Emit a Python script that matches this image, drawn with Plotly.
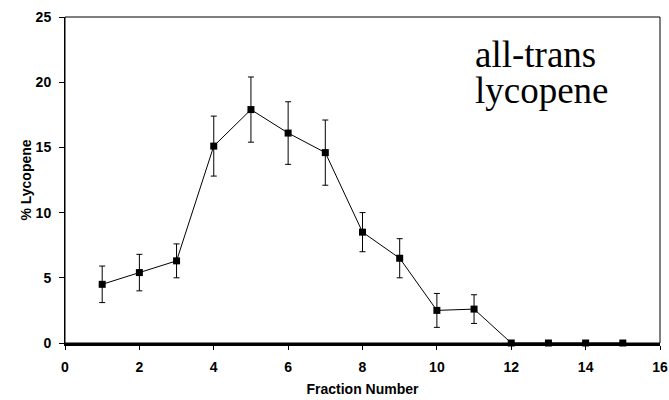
import plotly.graph_objects as go

fraction = [1, 2, 3, 4, 5, 6, 7, 8, 9, 10, 11, 12, 13, 14, 15]
lycopene = [4.5, 5.4, 6.3, 15.1, 17.9, 16.1, 14.6, 8.5, 6.5, 2.5, 2.6, 0, 0, 0, 0]
err = [1.4, 1.4, 1.3, 2.3, 2.5, 2.4, 2.5, 1.5, 1.5, 1.3, 1.1, 0, 0, 0, 0]

x_ticks = [0, 2, 4, 6, 8, 10, 12, 14, 16]
y_ticks = [0, 5, 10, 15, 20, 25]

fig = go.Figure()
fig.add_trace(go.Scatter(
    x=fraction, y=lycopene, mode="lines+markers",
    line=dict(color="black", width=1),
    marker=dict(symbol="square", size=7, color="black"),
    error_y=dict(type="data", array=err, visible=True, color="black", thickness=1, width=3),
    cliponaxis=False, showlegend=False,
))

tickfont = dict(family="Liberation Sans, Arial", size=14, color="black")
fig.update_layout(
    width=669, height=400,
    margin=dict(l=65, r=9, t=17, b=57),
    paper_bgcolor="white", plot_bgcolor="white",
    xaxis=dict(range=[0, 16], tickvals=x_ticks, ticktext=[f"<b>{v}</b>" for v in x_ticks],
               showgrid=False, zeroline=False, showline=True, linecolor="black", linewidth=2.5,
               ticks="outside", ticklen=4, tickcolor="black", tickfont=tickfont,
               ticklabelstandoff=5, automargin=False, ticklabeloverflow="allow",
               title=dict(text="<b>Fraction Number</b>", font=tickfont, standoff=11)),
    yaxis=dict(range=[0, 25], tickvals=y_ticks, ticktext=[f"<b>{v}</b>" for v in y_ticks],
               showgrid=False, zeroline=False, showline=True, linecolor="black", linewidth=1,
               ticks="outside", ticklen=5, tickcolor="black", tickfont=tickfont,
               ticklabelstandoff=5, automargin=False, ticklabeloverflow="allow",
               title=dict(text="<b>% Lycopene</b>", font=tickfont, standoff=0)),
    shapes=[dict(type="rect", xref="paper", yref="paper", x0=0, y0=0, x1=1, y1=1,
                 line=dict(color="black", width=1), layer="below")],
    annotations=[
        dict(text="all-trans", xref="paper", yref="paper", x=0.686, y=0.885,
             xanchor="left", yanchor="middle", showarrow=False,
             font=dict(family="Liberation Serif, Times New Roman", size=37, color="black")),
        dict(text="lycopene", xref="paper", yref="paper", x=0.686, y=0.776,
             xanchor="left", yanchor="middle", showarrow=False,
             font=dict(family="Liberation Serif, Times New Roman", size=37, color="black")),
    ],
)

# remove the browser's default 8px body margin so the figure fills the window exactly
fig.write_html("out.html",
               config={"displayModeBar": False},
               post_script="document.body.style.margin='0';document.body.style.overflow='hidden';")
